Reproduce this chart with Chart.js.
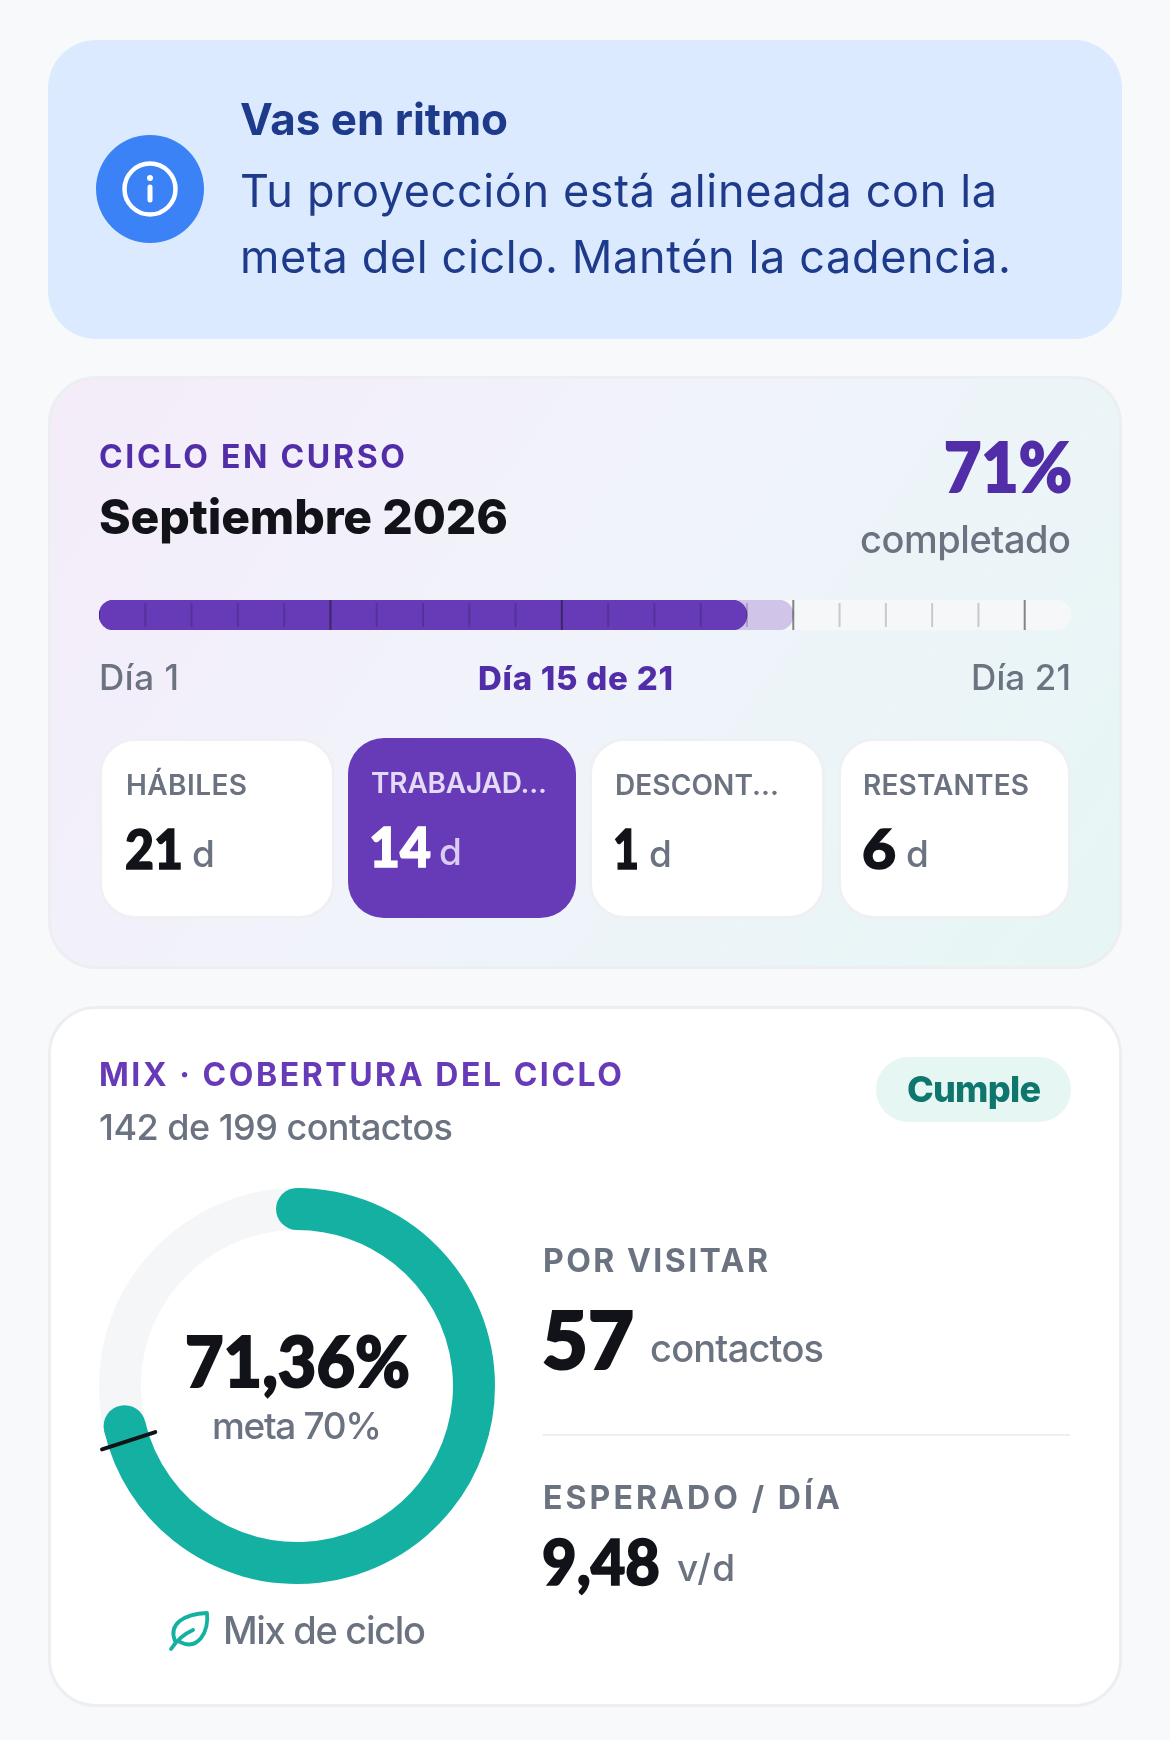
<!DOCTYPE html>
<html lang="es">
<head>
<meta charset="utf-8">
<title>Ciclo Septiembre 2026</title>
<script src="https://cdn.jsdelivr.net/npm/chart.js@4"></script>
<style>
  html, body { margin: 0; padding: 0; background: #f8f9fb; }
  #page { position: relative; width: 1170px; height: 1740px; overflow: hidden; font-family: Inter, "Noto Sans", sans-serif; }
  .box { position: absolute; box-sizing: border-box; }
  canvas { position: absolute; }
  #texts { position: absolute; left: 0; top: 0; }
  #banner { left: 48px; top: 40px; width: 1074px; height: 299px; border-radius: 48px; background: #dbeafe; }
  #cycle { left: 48px; top: 376px; width: 1074px; height: 593px; border-radius: 48px; border: 3px solid #eceef1;
           background: linear-gradient(125deg, #f4ecf9 0%, #f1f3fb 45%, #e6f6f4 100%); }
  #mix { left: 48px; top: 1006px; width: 1074px; height: 701px; border-radius: 48px; border: 3px solid #eceef1; background: #fff; }
  #pill { left: 876px; top: 1057px; width: 195px; height: 65px; border-radius: 33px; background: #e6f6f3; }
  #divider { left: 543px; top: 1434px; width: 527px; height: 2px; background: #eceef1; }
  .tile { border-radius: 36px; border: 3px solid #eff0f3; background: #fff; }
  .tile.on { border: 0; background: #673ab7; }
</style>
</head>
<body>
<div id="page">
  <div class="box" id="banner"></div>
  <div class="box" id="cycle"></div>
  <div class="box" id="mix"></div>
  <div class="box" id="pill"></div>
  <div class="box" id="divider"></div>
  <div class="box tile" style="left:99px;top:738px;width:236px;height:181px"></div>
  <div class="box tile on" style="left:348px;top:738px;width:228px;height:180px"></div>
  <div class="box tile" style="left:589px;top:738px;width:236px;height:181px"></div>
  <div class="box tile" style="left:838px;top:738px;width:233px;height:181px"></div>
  <canvas id="progressChart" width="972" height="30" style="left:99px;top:600px"></canvas>
  <canvas id="mixChart" width="428" height="428" style="left:83px;top:1172px"></canvas>
  <svg id="texts" width="1170" height="1740" xmlns="http://www.w3.org/2000/svg"></svg>
</div>
<script>
// datos del ciclo
const cycleMonth = 'Septiembre 2026';
const tileLabels = ['HÁBILES', 'TRABAJAD...', 'DESCONT...', 'RESTANTES'];
const tileValues = [21, 14, 1, 6];
const cycleDay = 15;
const cyclePct = 71;

// datos del mix
const mixDone = 142;
const mixTotal = 199;
const mixPct = [71.36, 28.64];
const mixGoal = 70;
const toVisit = 57;
const expectedPerDay = '9,48';

const DARK = '#111318';
const GREY = '#6b7280';
const NAVY = '#1e3a8a';
const PURPLE = '#512da8';
const VIOLET = '#673ab7';
const TEAL = '#14b1a3';
const SANS = 'Inter, "Noto Sans", sans-serif';
const NUM = 'Lato, Inter, sans-serif';

const svg = document.getElementById('texts');
const NS = 'http://www.w3.org/2000/svg';

// x e y son la linea base, w es el ancho medido en la referencia
function txt(str, x, y, size, weight, color, w, family) {
    const t = document.createElementNS(NS, 'text');
    t.textContent = str;
    t.setAttribute('x', x);
    t.setAttribute('y', y);
    t.setAttribute('font-size', size);
    t.setAttribute('font-weight', weight);
    t.setAttribute('fill', color);
    t.setAttribute('font-family', family || SANS);
    if (w) t.setAttribute('textLength', w);
    // las cifras se estrechan en vez de solaparse, con un trazo para darles peso
    if (family === NUM) {
        t.setAttribute('lengthAdjust', 'spacingAndGlyphs');
        t.setAttribute('stroke', color);
        t.setAttribute('stroke-width', size * 0.028);
    }
    svg.appendChild(t);
}

function shape(tag, attrs) {
    const s = document.createElementNS(NS, tag);
    Object.keys(attrs).forEach(k => s.setAttribute(k, attrs[k]));
    svg.appendChild(s);
}

// aviso
shape('circle', { cx: 150, cy: 189, r: 54, fill: '#3b82f6' });
shape('circle', { cx: 150, cy: 189, r: 25.5, fill: 'none', stroke: '#fff', 'stroke-width': 4.5 });
shape('circle', { cx: 150, cy: 178, r: 3, fill: '#fff' });
shape('line', { x1: 150, y1: 187, x2: 150, y2: 200, stroke: '#fff', 'stroke-width': 5, 'stroke-linecap': 'round' });
txt('Vas en ritmo', 240, 135, 44, 700, NAVY, 268);
txt('Tu proyección está alineada con la', 240, 207, 45, 400, NAVY, 757);
txt('meta del ciclo. Mantén la cadencia.', 240, 273, 45, 400, NAVY, 771);

// ciclo en curso
txt('CICLO EN CURSO', 99, 468, 32, 700, PURPLE, 306);
txt(cycleMonth, 99, 534, 48, 800, DARK, 409);
txt(cyclePct + '%', 944, 492, 68, 900, PURPLE, 128, NUM);
txt('completado', 860, 553, 38, 500, GREY, 211);
txt('Día 1', 99, 690, 35, 500, GREY, 80);
txt('Día ' + cycleDay + ' de ' + tileValues[0], 478, 690, 33, 800, PURPLE, 195);
txt('Día ' + tileValues[0], 971, 690, 35, 500, GREY, 100);

const tileX = [126, 371, 615, 863];
const tileLabelW = [121, 176, 164, 166];
const tileNumX = [125, 369, 613, 862];
const tileNumW = [58, 62, 26, 34];
const tileUnitX = [192, 439, 649, 906];
tileLabels.forEach((label, i) => {
    const on = i === 1;
    const dy = on ? -2 : 0;
    txt(label, tileX[i], 795 + dy, 28, 600, on ? '#e3daf6' : GREY, tileLabelW[i]);
    txt(tileValues[i], tileNumX[i], 869 + dy, 56, 900, on ? '#fff' : DARK, tileNumW[i], NUM);
    txt('d', tileUnitX[i], 867 + dy, 37, 500, on ? '#d9cef1' : GREY, 20);
});

// mix
txt('MIX · COBERTURA DEL CICLO', 99, 1086, 32, 700, VIOLET, 523);
txt(mixDone + ' de ' + mixTotal + ' contactos', 99, 1140, 36, 500, GREY, 354);
txt('Cumple', 907, 1102, 36, 800, '#0f766e', 134);
txt(String(mixPct[0]).replace('.', ',') + '%', 185, 1387, 70, 900, DARK, 225, NUM);
txt('meta ' + mixGoal + '%', 212, 1439, 37, 500, GREY, 170);
txt('Mix de ciclo', 223, 1644, 38, 500, GREY, 203);
shape('path', { d: 'M175 1641 C168 1624 184 1614 207 1613 C209 1632 198 1651 180 1642 M171 1649 C177 1640 184 1634 193 1630',
    fill: 'none', stroke: TEAL, 'stroke-width': 3.8, 'stroke-linecap': 'round', 'stroke-linejoin': 'round' });

txt('POR VISITAR', 543, 1272, 32, 700, GREY, 225);
txt(toVisit, 542, 1369, 80, 900, DARK, 92, NUM);
txt('contactos', 650, 1362, 38, 500, GREY, 174);
txt('ESPERADO / DÍA', 543, 1509, 32, 700, GREY, 297);
txt(expectedPerDay, 542, 1585, 62, 900, DARK, 118, NUM);
txt('v/d', 677, 1581, 37, 500, GREY, 58);

// marcas de cada dia sobre la barra
const dayTicks = {
    id: 'dayTicks',
    afterDatasetsDraw(chart) {
        const ctx = chart.ctx;
        const x = chart.scales.x;
        const h = chart.height;
        ctx.save();
        ctx.beginPath();
        ctx.roundRect(0, 0, chart.width, h, h / 2);
        ctx.clip();
        for (let d = 0; d < tileValues[0]; d++) {
            const major = d % 5 === 0;
            ctx.fillStyle = major ? 'rgba(17,19,24,0.5)' : 'rgba(17,19,24,0.2)';
            const inset = major ? 0 : 3;
            ctx.fillRect(x.getPixelForValue(d) - 1, inset, 2, h - inset * 2);
        }
        ctx.restore();
    }
};

new Chart(document.getElementById('progressChart'), {
    type: 'bar',
    plugins: [dayTicks],
    data: {
        labels: [cycleMonth],
        datasets: [
            { data: [tileValues[1]], backgroundColor: VIOLET, order: 1 },
            { data: [cycleDay], backgroundColor: '#d1c4e9', order: 2 },
            { data: [tileValues[0]], backgroundColor: '#f6f7f9', order: 3 }
        ]
    },
    options: {
        indexAxis: 'y',
        responsive: false,
        animation: false,
        datasets: { bar: { grouped: false, barPercentage: 1, categoryPercentage: 1, borderRadius: 15, borderSkipped: false } },
        layout: { padding: 0 },
        scales: {
            x: { display: false, min: 0, max: tileValues[0] },
            y: { display: false }
        },
        plugins: { legend: { display: false }, tooltip: { enabled: false } }
    }
});

// extremos redondeados que sobresalen del arco y marca de la meta
const ringExtras = {
    id: 'ringExtras',
    afterDatasetsDraw(chart) {
        const ctx = chart.ctx;
        const arc = chart.getDatasetMeta(0).data[0];
        const mid = (arc.innerRadius + arc.outerRadius) / 2;
        const capR = (arc.outerRadius - arc.innerRadius) / 2;
        ctx.save();
        ctx.fillStyle = TEAL;
        [arc.startAngle, arc.endAngle].forEach(a => {
            ctx.beginPath();
            ctx.arc(arc.x + mid * Math.cos(a), arc.y + mid * Math.sin(a), capR, 0, Math.PI * 2);
            ctx.fill();
        });
        const g = -Math.PI / 2 + Math.PI * 2 * mixGoal / 100;
        ctx.strokeStyle = DARK;
        ctx.lineWidth = 4;
        ctx.lineCap = 'round';
        ctx.beginPath();
        ctx.moveTo(arc.x + 149 * Math.cos(g), arc.y + 149 * Math.sin(g));
        ctx.lineTo(arc.x + 205 * Math.cos(g), arc.y + 205 * Math.sin(g));
        ctx.stroke();
        ctx.restore();
    }
};

new Chart(document.getElementById('mixChart'), {
    type: 'doughnut',
    plugins: [ringExtras],
    data: {
        labels: ['Cubierto', 'Pendiente'],
        datasets: [{ data: mixPct, backgroundColor: [TEAL, '#f5f6f8'], borderWidth: 0 }]
    },
    options: {
        responsive: false,
        animation: false,
        cutout: 156,
        layout: { padding: 16 },
        plugins: { legend: { display: false }, tooltip: { enabled: false } }
    }
});
</script>
</body>
</html>
